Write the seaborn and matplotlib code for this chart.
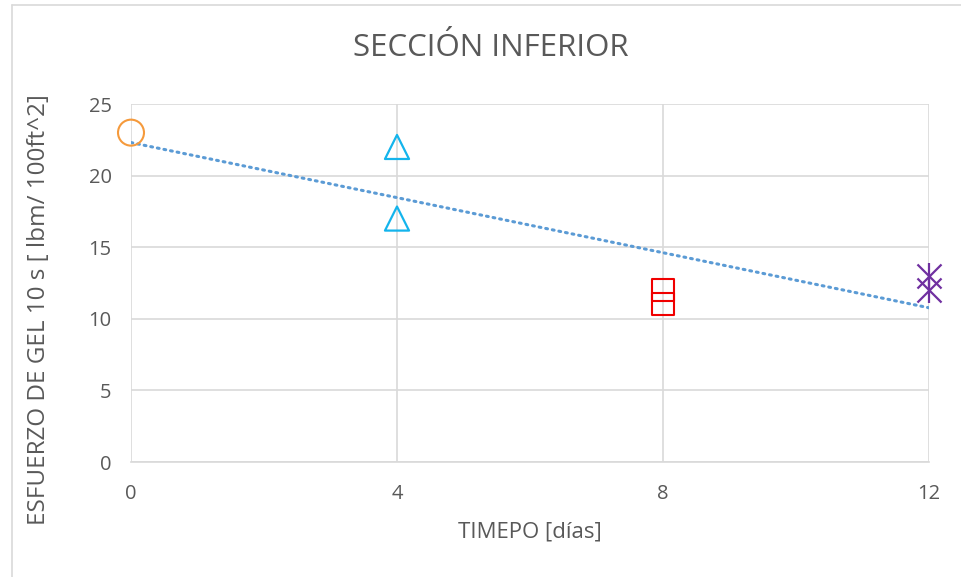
import numpy as np
import pandas as pd
import matplotlib
matplotlib.use("Agg")
import matplotlib.pyplot as plt
import seaborn as sns
from matplotlib.lines import Line2D

# Esfuerzo de gel 10 s - seccion inferior
dias_0 = [0]
gel_0 = [23]
dias_4 = [4, 4]
gel_4 = [22, 17]
dias_8 = [8, 8]
gel_8 = [12, 11]
dias_12 = [12, 12]
gel_12 = [13, 12]

x_ticks = [0, 4, 8, 12]
y_ticks = [0, 5, 10, 15, 20, 25]

sns.set_style("white")
plt.rcParams["font.family"] = ["Open Sans", "DejaVu Sans"]
txt = "#595959"
grid = "#D9D9D9"

fig = plt.figure(figsize=(9.61, 5.77), dpi=100)
ax = fig.add_axes([131 / 961, 1 - 462 / 577, (929 - 131) / 961, (462 - 104) / 577])

# outer chart border (left and top visible)
fig.add_artist(Line2D([12 / 961, 12 / 961], [0, 1 - 5 / 577], transform=fig.transFigure, color=grid, lw=1.2))
fig.add_artist(Line2D([12 / 961, 1], [1 - 5 / 577, 1 - 5 / 577], transform=fig.transFigure, color=grid, lw=1.2))

# trend line from all points
all_x = np.array(dias_0 + dias_4 + dias_8 + dias_12)
all_y = np.array(gel_0 + gel_4 + gel_8 + gel_12)
m, b = np.polyfit(all_x, all_y, 1)
tx = np.array([0, 12])
ax.plot(tx, m * tx + b, color="#5B9BD5", lw=2.2, ls=(0, (0.6, 1.6)), dash_capstyle="round", zorder=3)

ms = 250
sns.scatterplot(x=dias_0, y=gel_0, ax=ax, marker="o", s=ms * 1.4, facecolor="none",
                edgecolor="#F59A3C", linewidth=1.5, zorder=4)
sns.scatterplot(x=dias_4, y=gel_4, ax=ax, marker="^", s=ms * 1.2, facecolor="none",
                edgecolor="#14B4EC", linewidth=1.6, zorder=4)
sns.scatterplot(x=dias_8, y=gel_8, ax=ax, marker="s", s=ms, facecolor="none",
                edgecolor="#F00000", linewidth=1.5, zorder=4)
sns.scatterplot(x=dias_12, y=gel_12, ax=ax, marker="x", s=ms * 1.2, color="#7030A0",
                linewidth=1.6, zorder=4)
sns.scatterplot(x=dias_12, y=gel_12, ax=ax, marker="|", s=ms * 1.5, color="#7030A0",
                linewidth=1.6, zorder=4)

ax.set_xlim(0, 12)
ax.set_ylim(0, 25)
ax.set_xticks(x_ticks)
ax.set_yticks(y_ticks)
ax.grid(True, color=grid, lw=1.2)
ax.set_axisbelow(True)
for side in ["top", "right", "left"]:
    ax.spines[side].set_visible(False)
ax.spines["bottom"].set_color(grid)
ax.spines["bottom"].set_linewidth(1.2)
ax.tick_params(axis="both", length=0, labelsize=14.5, colors=txt)
ax.tick_params(axis="y", pad=14)
ax.tick_params(axis="x", pad=16)

fig.text(491 / 961, 1 - 48 / 577, "SECCIÓN INFERIOR", fontsize=22.5, color=txt,
         ha="center", va="center")
ax.set_xlabel("TIMEPO [días]", fontsize=16, color=txt)
ax.set_ylabel("ESFUERZO DE GEL 10 s [ lbm/ 100ft^2]", fontsize=17.5, color=txt)
ax.xaxis.set_label_coords(0.5, (462 - 532) / 358)
ax.yaxis.set_label_coords((39 - 131) / 798, (462 - 310) / 358)
ax.xaxis.label.set_va("center")
ax.yaxis.label.set_va("center")

for coll in ax.collections:
    coll.set_clip_on(False)

fig.savefig("out.png", dpi=100)
